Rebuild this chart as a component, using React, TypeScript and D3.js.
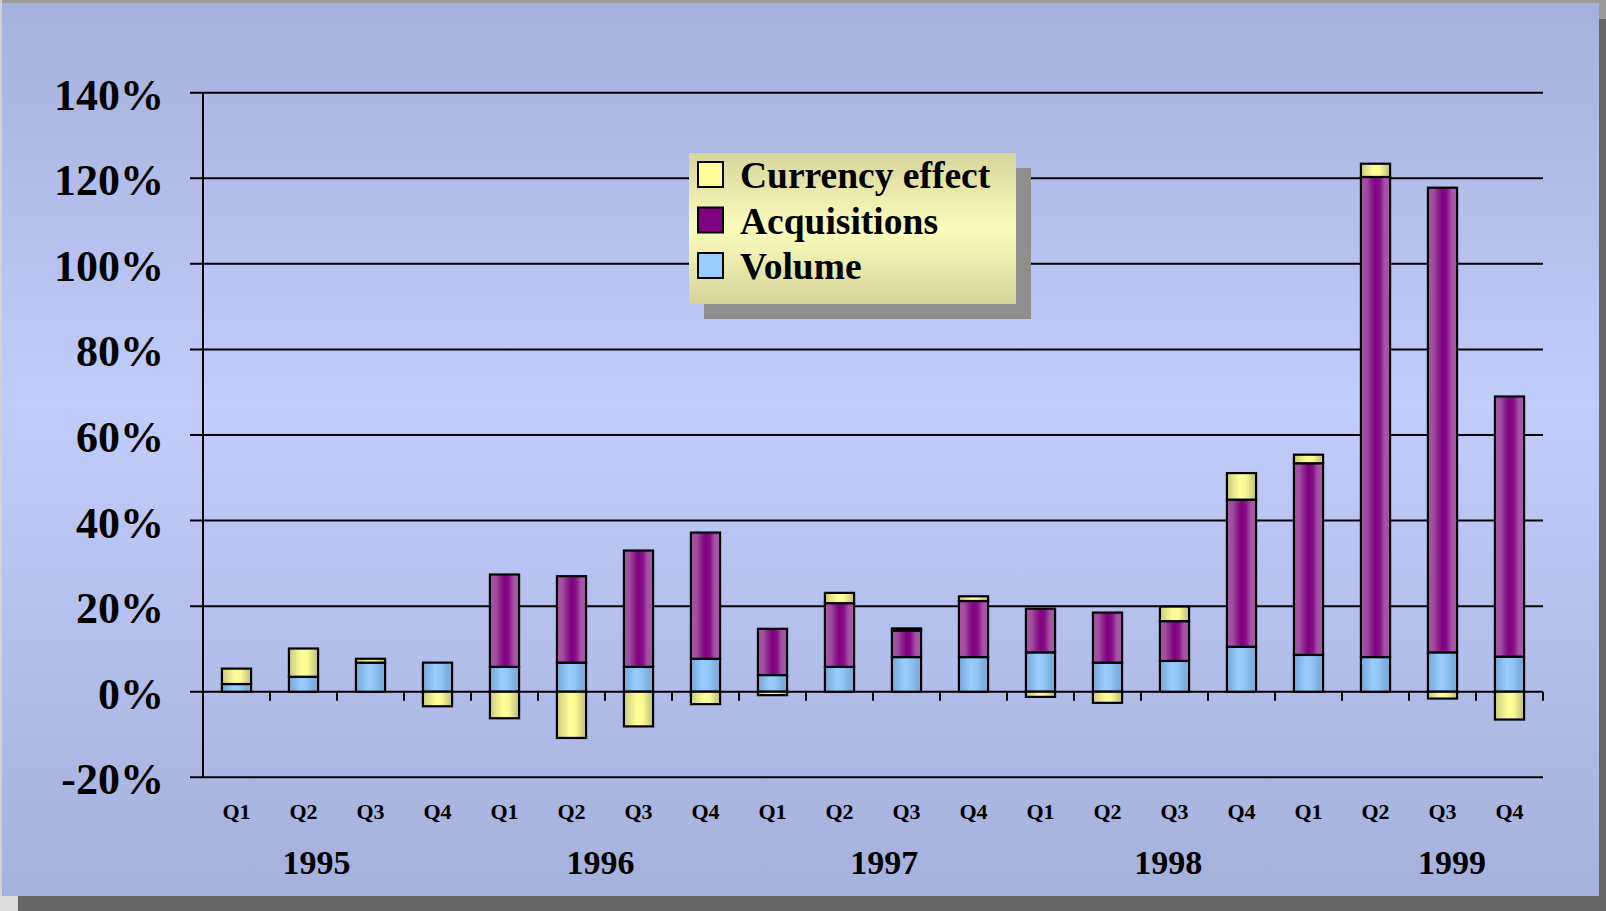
import { useEffect } from 'react';
import * as d3 from 'd3';

// Quarterly growth split into volume, acquisitions and currency effect (percent)
const quarters = ['Q1', 'Q2', 'Q3', 'Q4', 'Q1', 'Q2', 'Q3', 'Q4', 'Q1', 'Q2', 'Q3', 'Q4', 'Q1', 'Q2', 'Q3', 'Q4', 'Q1', 'Q2', 'Q3', 'Q4'];
const years = ['1995', '1996', '1997', '1998', '1999'];
const volume = [1.8, 3.5, 6.8, 6.8, 5.8, 6.8, 5.8, 7.7, 3.9, 5.8, 8.1, 8.1, 9.2, 6.8, 7.2, 10.5, 8.6, 8.1, 9.2, 8.2];
const acquisitions = [0, 0, 0, 0, 21.6, 20.2, 27.2, 29.5, 10.8, 14.9, 6.2, 13.1, 10.2, 11.7, 9.3, 34.4, 44.8, 112.2, 108.6, 60.8];
const currency = [3.6, 6.6, 0.9, -3.4, -6.2, -10.8, -8.1, -2.9, -0.8, 2.4, 0.5, 1.1, -1.2, -2.6, 3.4, 6.2, 2.0, 3.1, -1.6, -6.5];
const yTicks = [-20, 0, 20, 40, 60, 80, 100, 120, 140];

const seriesKeys = ['volume', 'acquisitions', 'currency'] as const;
const legendItems = [
  { key: 'currency', label: 'Currency effect', color: '#ffff99' },
  { key: 'acquisitions', label: 'Acquisitions', color: '#800080' },
  { key: 'volume', label: 'Volume', color: '#99ccff' },
];

const W = 1606;
const H = 911;
const FONT = "'Liberation Serif', 'Times New Roman', serif";

export default function App() {
  useEffect(() => {
    document.body.style.margin = '0';
  }, []);

  const left = 203;
  const right = 1543;
  const top = 92.7;
  const bottom = 777.3;

  const rows = quarters.map((q, i) => ({
    i,
    volume: volume[i],
    acquisitions: acquisitions[i],
    currency: currency[i],
  }));

  const x = d3.scaleBand<number>()
    .domain(rows.map(d => d.i))
    .range([left, right])
    .paddingInner(0.565)
    .paddingOuter(0.2825);

  const y = d3.scaleLinear().domain([-20, 140]).range([bottom, top]);

  const stacked = d3.stack<any>()
    .keys(seriesKeys as unknown as string[])
    .offset(d3.stackOffsetDiverging)(rows);

  // year labels were placed as free text boxes, not exactly over their quarter groups
  const yearX = d3.scalePoint<string>().domain(years).range([left + 113.5, right - 91]);

  const step = x.step();
  const boundaries = d3.range(quarters.length + 1).map(k => left + k * step);

  return (
    <svg width={W} height={H} style={{ display: 'block' }}>
      <defs>
        <linearGradient id="panel" x1="0" y1="0" x2="0" y2="1">
          <stop offset="0" stopColor="#a5b0dc" />
          <stop offset="0.45" stopColor="#c1ccfb" />
          <stop offset="1" stopColor="#a6b0dc" />
        </linearGradient>
        <linearGradient id="legendBg" x1="0" y1="0" x2="0" y2="1">
          <stop offset="0" stopColor="#d6d69c" />
          <stop offset="0.5" stopColor="#fbfbbc" />
          <stop offset="1" stopColor="#d6d69c" />
        </linearGradient>
        <linearGradient id="g-volume" x1="0" y1="0" x2="1" y2="0">
          <stop offset="0" stopColor="#78a6d4" />
          <stop offset="0.2" stopColor="#88b8ea" />
          <stop offset="0.4" stopColor="#99ccff" />
          <stop offset="0.6" stopColor="#94c6f8" />
          <stop offset="0.85" stopColor="#7eaede" />
          <stop offset="1" stopColor="#80acd8" />
        </linearGradient>
        <linearGradient id="g-acquisitions" x1="0" y1="0" x2="1" y2="0">
          <stop offset="0" stopColor="#a656a6" />
          <stop offset="0.2" stopColor="#a04ca0" />
          <stop offset="0.35" stopColor="#8a248a" />
          <stop offset="0.5" stopColor="#800080" />
          <stop offset="0.65" stopColor="#861088" />
          <stop offset="0.82" stopColor="#a453a4" />
          <stop offset="1" stopColor="#a858a8" />
        </linearGradient>
        <linearGradient id="g-currency" x1="0" y1="0" x2="1" y2="0">
          <stop offset="0" stopColor="#c8c87c" />
          <stop offset="0.2" stopColor="#e2e28a" />
          <stop offset="0.45" stopColor="#ffff99" />
          <stop offset="0.65" stopColor="#f8f896" />
          <stop offset="0.9" stopColor="#cdcd80" />
          <stop offset="1" stopColor="#c8c87c" />
        </linearGradient>
      </defs>

      {/* frame and slide panel */}
      <rect x={0} y={0} width={W} height={H} fill="#9b9b9b" />
      <rect x={0} y={0} width={2} height={H} fill="#d2d2d2" />
      <rect x={0} y={896} width={18} height={H - 896} fill="#dcdcdc" />
      <rect x={18} y={19} width={W - 18} height={H - 19} fill="#666666" />
      <rect x={2} y={3} width={1597} height={893} fill="url(#panel)" />

      {/* gridlines */}
      {yTicks.map(t => (
        <line key={t} x1={left - 13} x2={right} y1={y(t)} y2={y(t)} stroke="#000" strokeWidth={2} />
      ))}
      <line x1={left} x2={left} y1={top} y2={bottom} stroke="#000" strokeWidth={2} />

      {/* category ticks on zero line */}
      {boundaries.map((bx, k) => (
        <line key={k} x1={bx} x2={bx} y1={y(0)} y2={y(0) + 9} stroke="#000" strokeWidth={2} />
      ))}

      {/* stacked bars */}
      {stacked.map(layer => (
        <g key={layer.key}>
          {layer.map((d, i) => {
            const y1 = y(Math.max(d[0], d[1]));
            const y2 = y(Math.min(d[0], d[1]));
            if (y2 - y1 < 0.1) return null;
            return (
              <rect key={i} x={x(i)} y={y1} width={x.bandwidth()} height={y2 - y1}
                fill={`url(#g-${layer.key})`} stroke="#000" strokeWidth={2.2} />
            );
          })}
        </g>
      ))}

      {/* y labels */}
      {yTicks.map(t => (
        <text key={t} x={164} y={y(t) + 17} textAnchor="end" fontFamily={FONT} fontWeight="bold" fontSize={44} fill="#000">
          {`${t}%`}
        </text>
      ))}

      {/* quarter labels */}
      {quarters.map((q, i) => (
        <text key={i} x={(x(i) ?? 0) + x.bandwidth() / 2} y={819} textAnchor="middle" fontFamily={FONT} fontWeight="bold" fontSize={22} fill="#000">
          {q}
        </text>
      ))}

      {/* year labels */}
      {years.map(yr => (
        <text key={yr} x={yearX(yr)} y={874} textAnchor="middle" fontFamily={FONT} fontWeight="bold" fontSize={34} fill="#000">
          {yr}
        </text>
      ))}

      {/* legend */}
      <g>
        <rect x={704} y={168} width={327} height={151} fill="#8f8f8f" />
        <rect x={689} y={153} width={327} height={151} fill="url(#legendBg)" />
        {legendItems.map((it, k) => (
          <g key={it.key} transform={`translate(698,${162 + k * 45.5})`}>
            <rect x={0} y={0} width={25} height={25} fill={it.color} stroke="#000" strokeWidth={2} />
            <text x={42} y={26} fontFamily={FONT} fontWeight="bold" fontSize={37.5} fill="#000">
              {it.label}
            </text>
          </g>
        ))}
      </g>
    </svg>
  );
}
